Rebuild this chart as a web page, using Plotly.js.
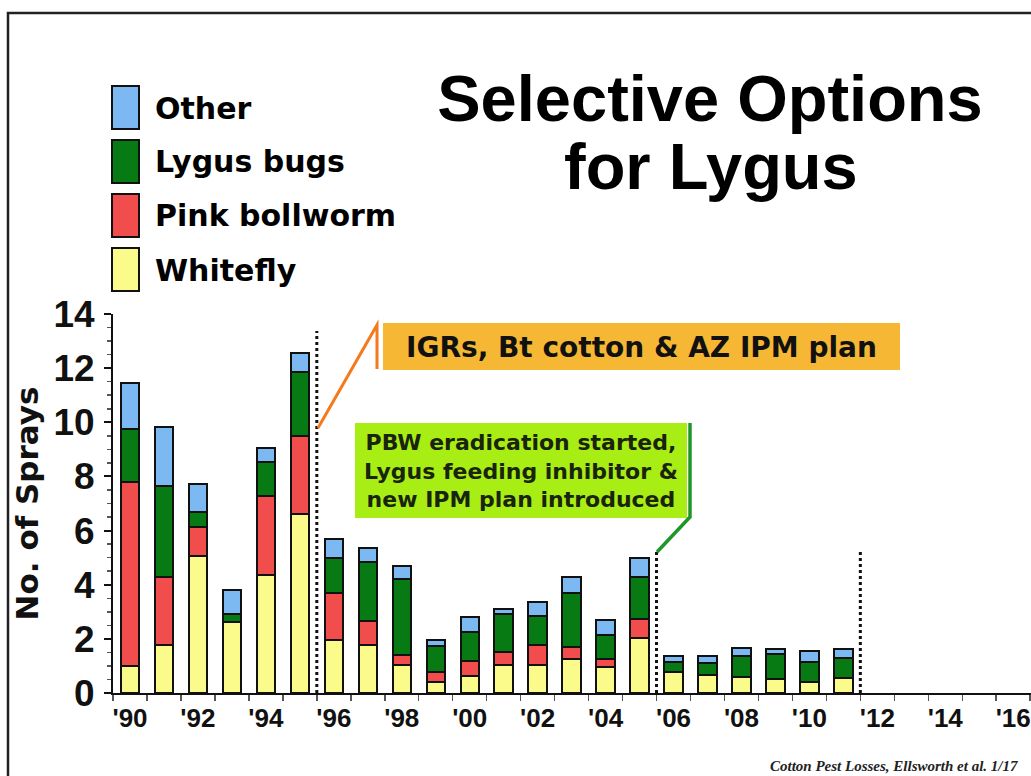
<!DOCTYPE html>
<html>
<head>
<meta charset="utf-8">
<script src="https://cdn.plot.ly/plotly-3.0.1.min.js"></script>
<style>html,body{margin:0;padding:0;background:#fff;}#chart{width:1031px;height:776px;}</style>
</head>
<body>
<div id="chart"></div>
<script>
// ---- data ----
const years = [1990,1991,1992,1993,1994,1995,1996,1997,1998,1999,2000,2001,2002,2003,2004,2005,2006,2007,2008,2009,2010,2011];
const whitefly = [1.00,1.77,5.06,2.63,4.36,6.61,1.95,1.79,1.05,0.39,0.63,1.05,1.05,1.27,0.96,2.04,0.76,0.66,0.59,0.50,0.41,0.57];
const pinkBollworm = [6.80,2.50,1.09,0.00,2.92,2.90,1.75,0.88,0.37,0.37,0.54,0.45,0.72,0.43,0.31,0.69,0.00,0.00,0.00,0.00,0.00,0.00];
const lygusBugs = [1.95,3.36,0.55,0.27,1.25,2.34,1.30,2.18,2.78,0.98,1.07,1.40,1.08,2.00,0.87,1.57,0.40,0.43,0.78,0.93,0.74,0.73];
const other = [1.70,2.20,1.03,0.90,0.52,0.72,0.70,0.50,0.49,0.20,0.57,0.20,0.50,0.57,0.55,0.68,0.21,0.29,0.30,0.21,0.41,0.34];
const seriesNames = ["Other","Lygus bugs","Pink bollworm","Whitefly"];
const tickYears = [1990,1992,1994,1996,1998,2000,2002,2004,2006,2008,2010,2012,2014,2016];
const tickLabels = ["'90","'92","'94","'96","'98","'00","'02","'04","'06","'08","'10","'12","'14","'16"];
// event boundaries (dotted lines) and their heights
const eventX = [1995.5, 2005.5, 2011.5];
const eventTop = [13.37, 5.22, 5.22];
const note1 = "IGRs, Bt cotton & AZ IPM plan";
const note2 = "PBW eradication started,<br>Lygus feeding inhibitor &<br>new IPM plan introduced";
const titleLine1 = "Selective Options";
const titleLine2 = "for Lygus";
const source = "Cotton Pest Losses, Ellsworth et al. 1/17";

// ---- styling ----
const colors = {"Other":"#7cb8f2","Lygus bugs":"#087a14","Pink bollworm":"#f24d4d","Whitefly":"#fbfb8c"};
const W = 1031, H = 776, ML = 113, MR = 0, MT = 314, MB = 83;
const PW = W - ML - MR, PH = H - MT - MB;
const px = x => (x - ML) / PW;          // pixel -> paper x
const py = y => (H - MB - y) / PH;      // pixel -> paper y

const valuesBy = {"Whitefly": whitefly, "Pink bollworm": pinkBollworm, "Lygus bugs": lygusBugs, "Other": other};
const stackOrder = ["Whitefly","Pink bollworm","Lygus bugs","Other"];
const traces = stackOrder.map(n => ({
  type: 'bar', name: n, x: years, y: valuesBy[n], width: 0.54,
  marker: {color: colors[n], line: {color: '#111', width: 2}},
  showlegend: false, hoverinfo: 'x+y+name'
}));

const shapes = [];
const annotations = [];

// frame
shapes.push({type:'rect', xref:'paper', yref:'paper', x0:px(8), x1:px(1045), y0:py(800), y1:py(13),
  line:{color:'#222', width:2.5}, fillcolor:'rgba(0,0,0,0)', layer:'below'});

// dotted event lines
eventX.forEach((x, i) => shapes.push({type:'line', xref:'x', yref:'y', x0:x, x1:x, y0:0, y1:eventTop[i],
  line:{color:'#111', width:3, dash:'dot'}}));

// legend (custom swatches)
const legTop = [86, 140, 194, 248];
seriesNames.forEach((n, i) => {
  shapes.push({type:'rect', xref:'paper', yref:'paper', x0:px(112), x1:px(139), y0:py(legTop[i]+43), y1:py(legTop[i]),
    fillcolor: colors[n], line:{color:'#111', width:2}});
  annotations.push({xref:'paper', yref:'paper', x:px(153), y:py(legTop[i]+22), xanchor:'left', yanchor:'middle',
    text: n, showarrow:false, font:{family:'DejaVu Sans', size:30, weight:'bold', color:'#000'}});
});

// orange note box
shapes.push({type:'rect', xref:'paper', yref:'paper', x0:px(383), x1:px(900), y0:py(370), y1:py(323),
  fillcolor:'#f6b834', line:{width:0}});
shapes.push({type:'path', xref:'paper', yref:'paper',
  path:`M${px(318)},${py(428)} L${px(377)},${py(325)} L${px(377)},${py(369)}`,
  line:{color:'#f47a1e', width:3}});
annotations.push({xref:'paper', yref:'paper', x:px(641), y:py(347), xanchor:'center', yanchor:'middle',
  text: note1, showarrow:false, font:{family:'DejaVu Sans', size:28, weight:'bold', color:'#111'}});

// green note box
shapes.push({type:'rect', xref:'paper', yref:'paper', x0:px(355), x1:px(687), y0:py(518), y1:py(423),
  fillcolor:'#a8ee14', line:{width:0}});
shapes.push({type:'path', xref:'paper', yref:'paper',
  path:`M${px(690)},${py(423)} L${px(690)},${py(517)} L${px(657)},${py(552)}`,
  line:{color:'#1f962a', width:3.5}});
annotations.push({xref:'paper', yref:'paper', x:px(521), y:py(471), xanchor:'center', yanchor:'middle',
  text: note2, showarrow:false, align:'center', font:{family:'DejaVu Sans', size:22, weight:'bold', color:'#1a240c'}});

// second title line
annotations.push({xref:'paper', yref:'paper', x:px(711), y:py(166), xanchor:'center', yanchor:'middle',
  text: titleLine2, showarrow:false, font:{family:'Liberation Sans', size:65, weight:'bold', color:'#000'}});

// source
annotations.push({xref:'paper', yref:'paper', x:px(1020), y:py(766), xanchor:'right', yanchor:'middle',
  text: source, showarrow:false, font:{family:'Liberation Serif', size:15, weight:'bold', style:'italic', color:'#222'}});

const minorX = [];
for (let k = 0; k <= 27; k++) minorX.push(1989.5 + k);

const layout = {
  width: W, height: H,
  margin: {l: ML, r: MR, t: MT, b: MB, pad: 0},
  paper_bgcolor: '#fff', plot_bgcolor: '#fff',
  barmode: 'stack',
  title: {text: titleLine1, x: 710 / W, xanchor: 'center', xref: 'container', yref: 'container',
    y: 1 - 98 / H, yanchor: 'middle', font: {family: 'Liberation Sans', size: 65, weight: 'bold', color: '#000'}},
  xaxis: {
    range: [1989.5, 1989.5 + PW / 33.97], tickmode: 'array', tickvals: tickYears, ticktext: tickLabels,
    ticks: '', showline: true, linecolor: '#111', linewidth: 2, showgrid: false, zeroline: false,
    tickfont: {family: 'Liberation Sans', size: 26, weight: 'bold', color: '#111'}, ticklabelstandoff: 1,
    minor: {tickmode: 'array', tickvals: minorX, ticks: 'outside', ticklen: 6, tickwidth: 1.5, tickcolor: '#555'},
    fixedrange: true
  },
  yaxis: {
    range: [0, 14], dtick: 2, tick0: 0, ticks: 'outside', ticklen: 7, tickwidth: 2, tickcolor: '#111',
    showline: true, linecolor: '#111', linewidth: 2, showgrid: false, zeroline: false,
    tickfont: {family: 'Liberation Sans', size: 37, weight: 'bold', color: '#111'}, ticklabelstandoff: 2,
    minor: {dtick: 0.5, ticks: 'outside', ticklen: 4, tickwidth: 1.5, tickcolor: '#555'},
    title: {text: 'No. of Sprays', standoff: 6, font: {family: 'DejaVu Sans', size: 31, weight: 'bold', color: '#111'}},
    fixedrange: true
  },
  shapes: shapes,
  annotations: annotations,
  bargap: 0.4
};

Plotly.newPlot('chart', traces, layout, {displayModeBar: false, staticPlot: true});
</script>
</body>
</html>
